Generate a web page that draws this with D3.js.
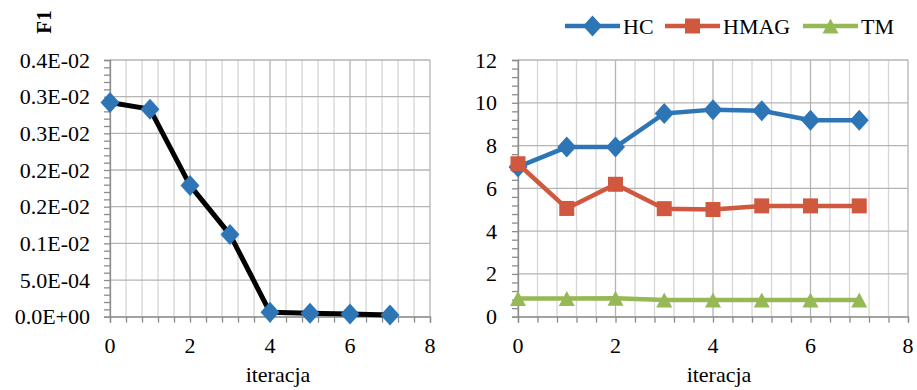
<!DOCTYPE html>
<html><head><meta charset="utf-8">
<script src="https://cdn.jsdelivr.net/npm/d3@7/dist/d3.min.js"></script>
</head><body style="margin:0">
<svg id="s" width="917" height="390"></svg>
<script>
// Iterations (shared x values)
const iterations = [0, 1, 2, 3, 4, 5, 6, 7];

// Left panel: F1 objective per iteration
const f1Values = [0.00292, 0.00283, 0.00179, 0.00112, 0.00006, 0.000046, 0.000037, 0.000023];
const f1TickValues = [0, 0.0005, 0.001, 0.0015, 0.002, 0.0025, 0.003, 0.0035];
const f1TickLabels = ["0.0E+00", "5.0E-04", "0.1E-02", "0.2E-02", "0.2E-02", "0.3E-02", "0.3E-02", "0.4E-02"];

// Right panel: three series
const seriesNames = ["HC", "HMAG", "TM"];
const hcValues = [7.0, 7.93, 7.93, 9.5, 9.68, 9.63, 9.18, 9.18];
const hmagValues = [7.15, 5.06, 6.19, 5.05, 5.01, 5.18, 5.18, 5.18];
const tmValues = [0.85, 0.85, 0.86, 0.78, 0.78, 0.78, 0.78, 0.78];
const rightTickValues = [0, 2, 4, 6, 8, 10, 12];

const xTickValues = [0, 2, 4, 6, 8];

const FONT = "Times New Roman";
const s = d3.select("#s");

const COLORS = { HC: "#2E75B6", HMAG: "#D0583F", TM: "#95B954" };
const GRID_MINOR = "#D6D6D6", GRID_MAJOR = "#B4B4B4", AXIS = "#8C8C8C";

const marks = s.append("g");

// Text labels are appended straight onto the root svg
function label(x, y, str, size, anchor) {
  return s.append("text").attr("x", x).attr("y", y).attr("font-size", size)
    .attr("font-family", FONT).attr("text-anchor", anchor).text(str);
}

// Marker shapes centred on the origin
function markerPath(kind) {
  if (kind === "diamond") { const w = 9.5, h = 10.5; return `M0,${-h}L${w},0L0,${h}L${-w},0Z`; }
  if (kind === "square") { const q = 7.5; return `M${-q},${-q}H${q}V${q}H${-q}Z`; }
  const w = 8, h = 7.5; return `M0,${-h}L${w},${h}L${-w},${h}Z`;
}

function drawFrame(x, y, opts) {
  const [x0, x1] = x.range();
  const [yb, yt] = y.range();
  const minorX = d3.range(0, 8.0001, 0.4);
  // vertical gridlines every 0.4, darker at the labelled values
  marks.append("g").selectAll("line").data(minorX).join("line")
    .attr("x1", d => x(d)).attr("x2", d => x(d))
    .attr("y1", yt).attr("y2", yb)
    .attr("stroke", d => Math.abs(d / 2 - Math.round(d / 2)) < 1e-6 ? GRID_MAJOR : GRID_MINOR)
    .attr("stroke-width", 1.3);
  // horizontal gridlines
  marks.append("g").selectAll("line").data(opts.yTicks).join("line")
    .attr("x1", x0).attr("x2", x1)
    .attr("y1", d => y(d)).attr("y2", d => y(d))
    .attr("stroke", GRID_MAJOR).attr("stroke-width", 1.3);

  // x axis: tick marks only
  const gx = marks.append("g").attr("transform", `translate(0,${yb})`)
    .call(d3.axisBottom(x).tickValues(minorX).tickSize(6).tickFormat(""));
  gx.selectAll(".tick text").remove();
  gx.select(".domain").attr("stroke", AXIS).attr("stroke-width", 1.3);
  gx.selectAll(".tick line").attr("stroke", AXIS).attr("stroke-width", 1.3);
  xTickValues.forEach(v => label(x(v), yb + 36, v, 22, "middle"));

  // y axis: tick marks only
  const yMinor = d3.range(0, opts.yMax * 1.00001, opts.yMinorStep);
  const gy = marks.append("g").attr("transform", `translate(${x0},0)`)
    .call(d3.axisLeft(y).tickValues(yMinor).tickSize(6).tickFormat(""));
  gy.selectAll(".tick text").remove();
  gy.select(".domain").attr("stroke", AXIS).attr("stroke-width", 1.3);
  gy.selectAll(".tick line").attr("stroke", AXIS).attr("stroke-width", 1.3);
  opts.yTicks.forEach((v, i) => label(opts.labelRight, y(v) + 7.5, opts.yLabels[i], 22, "end"));

  label(opts.titleX, 382, "iteracja", 22, "middle");
}

function drawSeries(x, y, values, lineColor, markerColor, kind, width) {
  const line = d3.line().x((d, i) => x(iterations[i])).y(d => y(d));
  marks.append("path").datum(values).attr("d", line)
    .attr("fill", "none").attr("stroke", lineColor)
    .attr("stroke-width", width).attr("stroke-linejoin", "round");
  marks.append("g").selectAll("path").data(values).join("path")
    .attr("transform", (d, i) => `translate(${x(iterations[i])},${y(d)})`)
    .attr("d", markerPath(kind)).attr("fill", markerColor);
}

// ---- Left panel ----
const xL = d3.scaleLinear([0, 8], [110, 430]);
const yL = d3.scaleLinear([0, 0.0035], [316.7, 60]);
drawFrame(xL, yL, {
  yTicks: f1TickValues, yLabels: f1TickLabels, yMax: 0.0035, yMinorStep: 0.0001,
  labelRight: 90, titleX: 278
});
drawSeries(xL, yL, f1Values, "#000", COLORS.HC, "diamond", 5);
label(0, 0, "F1", 21, "middle")
  .attr("x", null).attr("y", null)
  .attr("transform", "translate(51,22) rotate(-90)")
  .attr("font-weight", "bold");

// ---- Right panel ----
const xR = d3.scaleLinear([0, 8], [518, 908]);
const yR = d3.scaleLinear([0, 12], [316.7, 60]);
drawFrame(xR, yR, {
  yTicks: rightTickValues, yLabels: rightTickValues.map(String), yMax: 12, yMinorStep: 0.4,
  labelRight: 497, titleX: 719
});
const rightData = [hcValues, hmagValues, tmValues];
const kinds = ["diamond", "square", "triangle"];
seriesNames.forEach((name, i) => {
  drawSeries(xR, yR, rightData[i], COLORS[name], COLORS[name], kinds[i], 4.5);
});

// ---- Legend ----
const legendStart = [565, 665, 803];
seriesNames.forEach((name, i) => {
  const c = COLORS[name], x0 = legendStart[i];
  marks.append("line").attr("x1", x0).attr("x2", x0 + 55)
    .attr("y1", 26).attr("y2", 26).attr("stroke", c).attr("stroke-width", 4.5);
  marks.append("path").attr("transform", `translate(${x0 + 27.5},26)`)
    .attr("d", markerPath(kinds[i])).attr("fill", c);
  label(x0 + 58, 33.5, name, 22, "start");
});
</script></body></html>
